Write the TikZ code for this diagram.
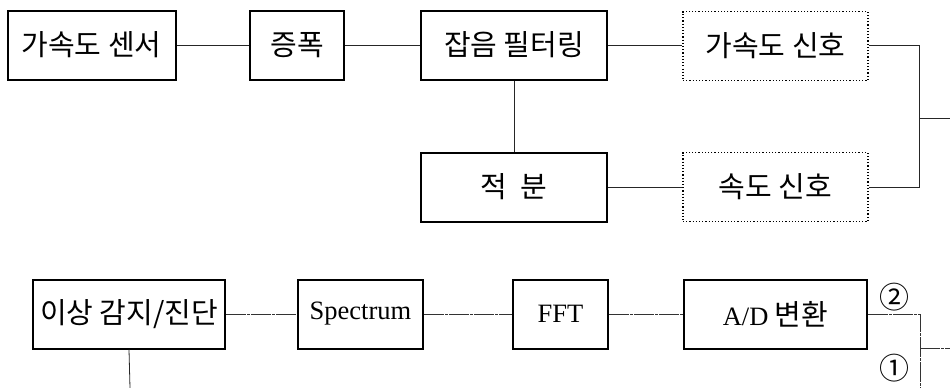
\documentclass[tikz,border=0pt]{standalone}
\usepackage{fontspec}
\setmainfont{Liberation Serif}
\newfontfamily\kr{Noto Sans CJK KR}
\begin{document}
\begin{tikzpicture}[x=1pt,y=-1pt,
  box/.style={draw, line width=2pt, minimum width=#1, minimum height=69pt, inner sep=0pt,
    font=\kr\fontsize{29}{29}\selectfont},
  sigbox/.style={draw, dotted, line width=1.2pt, minimum width=#1, minimum height=69pt, inner sep=0pt,
    font=\kr\fontsize{29}{29}\selectfont},
  conn/.style={line width=0.8pt, black!85},
  conn2/.style={line width=0.8pt, black!80, dash pattern=on 20pt off 1pt on 3pt off 1pt},
  num/.style={inner sep=0pt, font=\kr\fontsize{30}{30}\selectfont},
  lat/.style={font=\rmfamily\fontsize{26.5}{26.5}\selectfont}]
\useasboundingbox (0,0) rectangle (950,388);
% top rows
\node[box=168pt] (sensor) at (91.5,45) {가속도 센서};
\node[box=94pt] (amp) at (297,45) {증폭};
\node[box=186pt] (filt) at (514,45) {잡음 필터링};
\node[box=186pt] (integ) at (514,187) {적\hspace{0.45em}분};
\node[sigbox=185pt] (accsig) at (775.5,46) {가속도 신호};
\node[sigbox=185pt] (velsig) at (775.5,187) {속도 신호};
\coordinate (j1) at (919,118);
\coordinate (out1) at (950,118);
\draw[conn] (sensor.east) -- (amp.west);
\draw[conn] (amp.east) -- (filt.west);
\draw[conn] (filt.east) -- (accsig.west |- filt.east);
\draw[conn] (filt.south) -- (integ.north);
\draw[conn] (integ.east) -- (velsig.west);
\draw[conn] (accsig.east |- filt.east) -| (j1) |- (velsig.east);
\draw[conn] (j1) -- (out1);
% bottom row
\node[box=192pt] (diag) at (129,314) {이상 감지/진단};
\node[box=125pt, lat] (spec) at (360.5,314) {Spectrum};
\node[box=95pt, lat] (fft) at (560.5,314) {FFT};
\node[box=183pt] (ad) at (775.5,314) {{\rmfamily\fontsize{26.5}{26.5}\selectfont A/D} 변환};
\coordinate (j2) at (920,348);
\coordinate (b2) at (920,388);
\coordinate (out2) at (950,348);
\coordinate (b1) at (130,388);
\draw[conn2] (diag.east) -- (spec.west);
\draw[conn2] (spec.east) -- (fft.west);
\draw[conn2] (fft.east) -- (ad.west);
\draw[conn2] (ad.east) -| (b2);
\draw[conn2] (j2) -- (out2);
\draw[conn] (diag.south) -- (b1);
\node[num] (n2) at (894,297) {②};
\node[num] (n1) at (894,368) {①};
\end{tikzpicture}
\end{document}
